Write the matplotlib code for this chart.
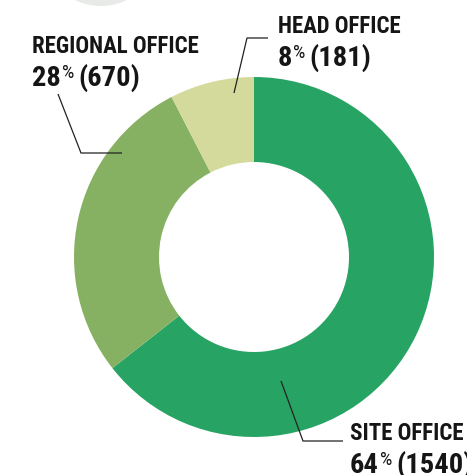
import matplotlib
matplotlib.use("Agg")
import matplotlib.pyplot as plt
from matplotlib.patches import Circle
from matplotlib import font_manager

# Staff distribution by office type
categories = ["SITE OFFICE", "REGIONAL OFFICE", "HEAD OFFICE"]
counts = [1540, 670, 181]
percents = [64, 28, 8]
colors = ["#27a363", "#87b162", "#d3da9b"]

W, H = 467, 475
DPI = 100

fig = plt.figure(figsize=(W / DPI, H / DPI), dpi=DPI)
ax = fig.add_axes([0, 0, 1, 1])


def Y(py):
    """Convert a pixel row (from the top) to axis y."""
    return H - py


names = {f.name for f in font_manager.fontManager.ttflist}
FAMILY = [f for f in ["Liberation Sans Narrow", "Roboto Condensed", "Liberation Sans"] if f in names][:1] + ["DejaVu Sans"]
INK = "#151515"

# Donut
cx, cy, r_out, r_in = 254, Y(257), 180, 95
ax.pie(counts, colors=colors, startangle=90, counterclock=False,
       center=(cx, cy), radius=r_out, frame=True,
       wedgeprops=dict(width=r_out - r_in, edgecolor="none", linewidth=0))
ax.set_xlim(0, W)
ax.set_ylim(0, H)
ax.set_aspect("equal")
ax.axis("off")

# Decorative grey disc peeking in at the top edge
ax.add_patch(Circle((101, Y(-53)), 59, facecolor="#e8eae8", edgecolor="none"))

# Leader lines (pixel paths)
leaders = {
    "SITE OFFICE": [(281, 381), (303, 441), (343, 441)],
    "REGIONAL OFFICE": [(58, 94), (81, 153), (122, 153)],
    "HEAD OFFICE": [(234, 93), (247, 38), (268, 38)],
}
for pts in leaders.values():
    ax.plot([p[0] for p in pts], [Y(p[1]) for p in pts], color="#222222", lw=0.9,
            solid_capstyle="butt", solid_joinstyle="miter")

# Label anchor: left x, baseline of line 1, baseline of line 2
anchors = {
    "SITE OFFICE": (350, 440, 473),
    "REGIONAL OFFICE": (32, 53, 85.5),
    "HEAD OFFICE": (278, 33, 65.5),
}

fig.canvas.draw()
renderer = fig.canvas.get_renderer()


def width_of(t):
    return t.get_window_extent(renderer=renderer).width


for name, cnt, pct in zip(categories, counts, percents):
    x0, b1, b2 = anchors[name]
    ax.text(x0, Y(b1), name, family=FAMILY, weight="bold", fontsize=16.5,
            color=INK, va="baseline", ha="left")
    t1 = ax.text(x0, Y(b2), f"{pct}", family=FAMILY, weight="bold", fontsize=20.5,
                 color=INK, va="baseline", ha="left")
    x = x0 + width_of(t1) + 1
    t2 = ax.text(x, Y(b2 - 8), "%", family=FAMILY, weight="normal", fontsize=14,
                 color=INK, va="baseline", ha="left")
    x += width_of(t2) + 4
    ax.text(x, Y(b2), f"({cnt})", family=FAMILY, weight="bold", fontsize=20.5,
            color=INK, va="baseline", ha="left")

fig.savefig("out.png", dpi=DPI, facecolor="white")
